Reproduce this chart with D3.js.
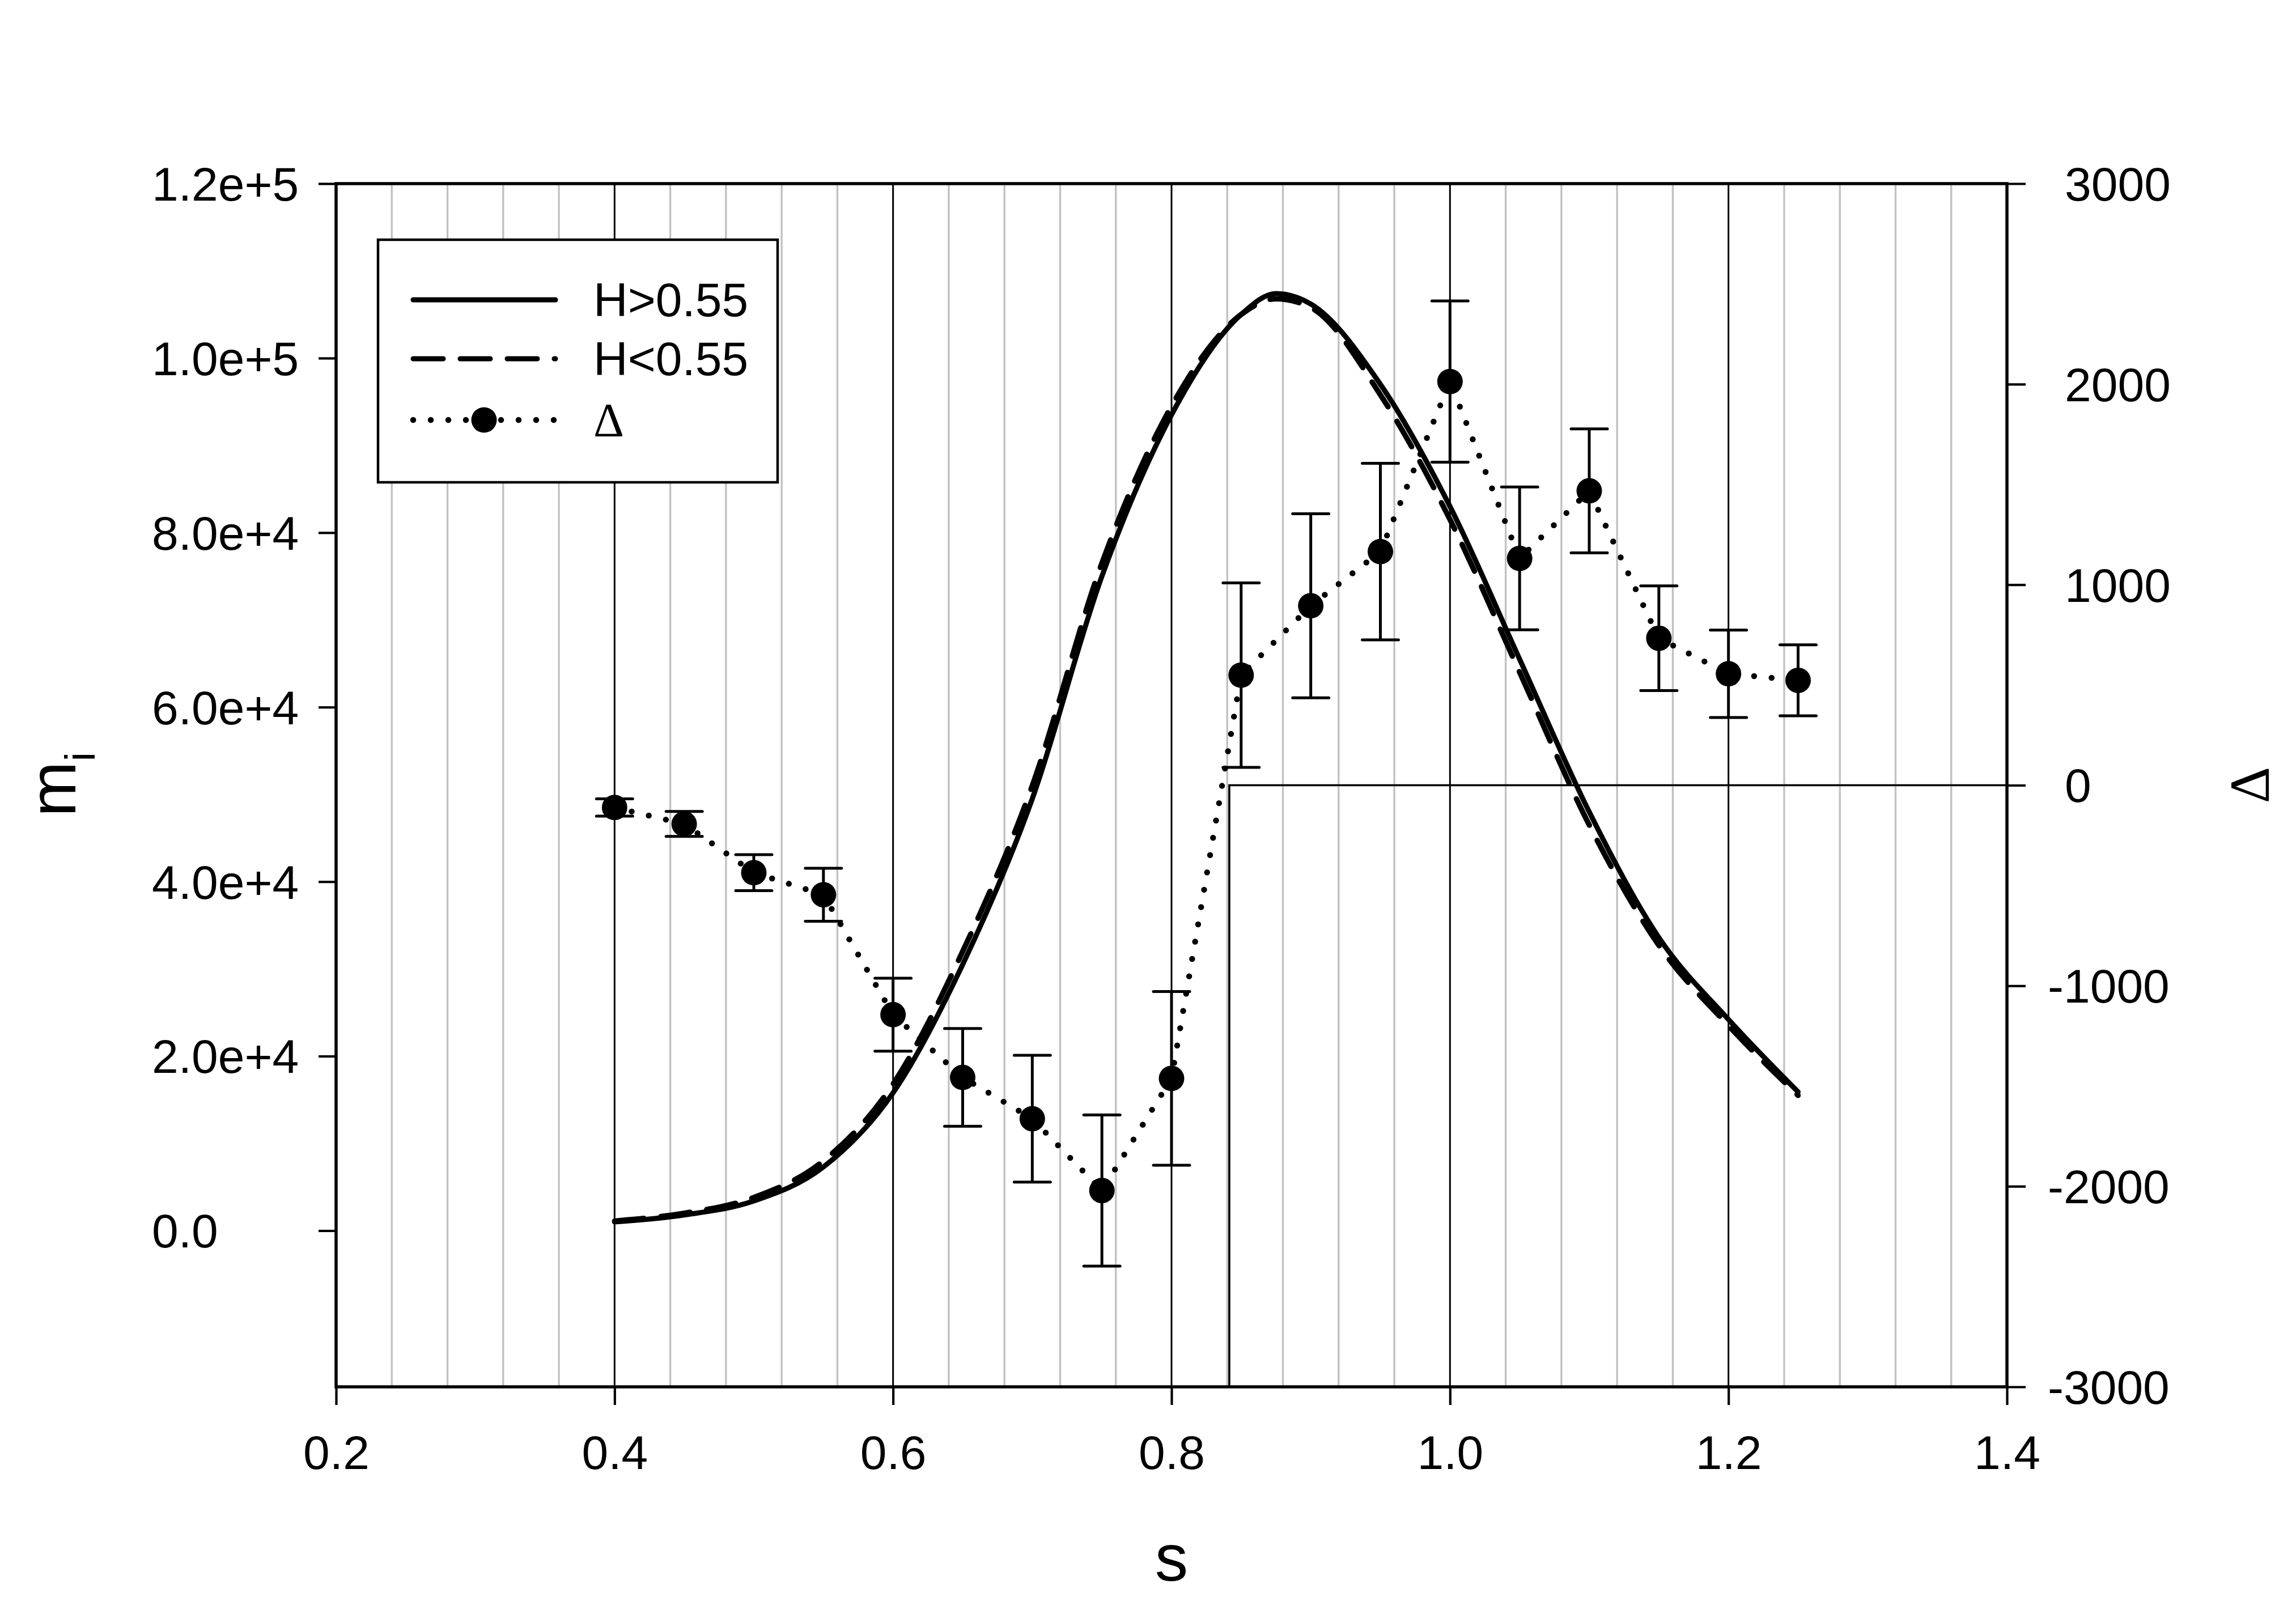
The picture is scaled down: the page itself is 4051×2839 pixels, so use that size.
<!DOCTYPE html>
<html>
<head>
<meta charset="utf-8">
<script src="https://cdn.jsdelivr.net/npm/d3@7"></script>
<style>
  body { margin: 0; background: #fff; }
  text { font-family: "Liberation Sans", Arial, sans-serif; fill: #000; }
</style>
</head>
<body>
<div class="container"></div>
<script>
// ---- data ----
var sCurve = [0.40, 0.45, 0.50, 0.55, 0.60, 0.65, 0.70, 0.75, 0.80, 0.85, 0.875, 0.90, 0.95, 1.00, 1.05, 1.10, 1.15, 1.20, 1.25];
var mHigh  = [1000, 1800, 3400, 7300, 15800, 30500, 49500, 75000, 93500, 105000, 107400, 106200, 97000, 83000, 65500, 48000, 33600, 24200, 15900];
var mLow   = [1100, 2000, 3800, 8000, 16800, 32000, 51000, 76500, 94500, 105000, 106800, 105800, 95800, 81500, 64000, 46500, 32700, 23500, 15500];

var sDelta   = [0.40, 0.45, 0.50, 0.55, 0.60, 0.65, 0.70, 0.75, 0.80, 0.85, 0.90, 0.95, 1.00, 1.05, 1.10, 1.15, 1.20, 1.25];
var deltaVal = [-111, -193, -436, -546, -1144, -1457, -1663, -2021, -1462, 549, 895, 1165, 2013, 1131, 1468, 733, 556, 523];
var deltaErr = [43, 62, 90, 132, 182, 244, 316, 377, 433, 460, 459, 440, 402, 356, 309, 261, 218, 177];

// reference step line (Δ axis)
var stepS = [0.8415, 0.8415, 1.4];
var stepD = [-3000, 0, 0];

var xTicks = [0.2, 0.4, 0.6, 0.8, 1.0, 1.2, 1.4];
var majorGrid = [0.4, 0.6, 0.8, 1.0, 1.2];
var leftTicks = [0, 20000, 40000, 60000, 80000, 100000, 120000];
var leftTickLabels = ["0.0", "2.0e+4", "4.0e+4", "6.0e+4", "8.0e+4", "1.0e+5", "1.2e+5"];
var rightTicks = [-3000, -2000, -1000, 0, 1000, 2000, 3000];

var legendLabels = ["H>0.55", "H<0.55", "\u0394"];

// ---- layout ----
const WIDTH = 4051, HEIGHT = 2839;
const LEFT = 593, RIGHT = 3541, TOP = 324, BOTTOM = 2447;

var svg = d3.select('.container').append('svg')
  .attr('width', WIDTH)
  .attr('height', HEIGHT)
  .style('display', 'block');

svg.append('rect').attr('width', WIDTH).attr('height', HEIGHT).attr('fill', '#fff');

var xScale = d3.scaleLinear().domain([0.2, 1.4]).range([LEFT, RIGHT]);
var yLeft = d3.scaleLinear().domain([-17900, 120000]).range([BOTTOM, TOP]);
var yRight = d3.scaleLinear().domain([-3000, 3000]).range([BOTTOM, TOP]);

// minor grid every 0.04
var minorGrid = d3.range(6, 35).map(function(i){ return +(i * 0.04).toFixed(2); })
  .filter(function(v){ return majorGrid.indexOf(v) < 0; });

svg.append('g').selectAll('line')
  .data(minorGrid).enter().append('line')
  .attr('x1', function(d){ return xScale(d); })
  .attr('x2', function(d){ return xScale(d); })
  .attr('y1', TOP).attr('y2', BOTTOM)
  .attr('stroke', '#c0c0c0').attr('stroke-width', 3.3);

svg.append('g').selectAll('line')
  .data(majorGrid).enter().append('line')
  .attr('x1', function(d){ return xScale(d); })
  .attr('x2', function(d){ return xScale(d); })
  .attr('y1', TOP).attr('y2', BOTTOM)
  .attr('stroke', '#000').attr('stroke-width', 3);

// step line
var stepLine = d3.line()
  .x(function(d, i){ return xScale(stepS[i]); })
  .y(function(d, i){ return yRight(stepD[i]); });
svg.append('path')
  .datum(stepS)
  .attr('d', stepLine)
  .attr('fill', 'none').attr('stroke', '#000').attr('stroke-width', 3.6);

// model curves
var curveLine = d3.line()
  .x(function(d, i){ return xScale(sCurve[i]); })
  .y(function(d){ return yLeft(d); })
  .curve(d3.curveMonotoneX);

svg.append('path')
  .datum(mLow)
  .attr('d', curveLine)
  .attr('fill', 'none').attr('stroke', '#000').attr('stroke-width', 9.5)
  .attr('stroke-dasharray', '52 30').attr('stroke-linecap', 'round');

svg.append('path')
  .datum(mHigh)
  .attr('d', curveLine)
  .attr('fill', 'none').attr('stroke', '#000').attr('stroke-width', 9)
  .attr('stroke-linecap', 'round');

// delta: dotted line, error bars, markers
var deltaLine = d3.line()
  .x(function(d, i){ return xScale(sDelta[i]); })
  .y(function(d){ return yRight(d); });

svg.append('path')
  .datum(deltaVal)
  .attr('d', deltaLine)
  .attr('fill', 'none').attr('stroke', '#000').attr('stroke-width', 10.5)
  .attr('stroke-dasharray', '0 31').attr('stroke-linecap', 'round');

var errG = svg.append('g').attr('stroke', '#000').attr('stroke-width', 5);
errG.selectAll('line.v')
  .data(deltaVal).enter().append('line').attr('class', 'v')
  .attr('x1', function(d, i){ return xScale(sDelta[i]); })
  .attr('x2', function(d, i){ return xScale(sDelta[i]); })
  .attr('y1', function(d, i){ return yRight(d + deltaErr[i]); })
  .attr('y2', function(d, i){ return yRight(d - deltaErr[i]); });
[1, -1].forEach(function(sign){
  errG.selectAll('line.c' + (sign > 0 ? 'p' : 'm'))
    .data(deltaVal).enter().append('line').attr('class', 'c' + (sign > 0 ? 'p' : 'm'))
    .attr('x1', function(d, i){ return xScale(sDelta[i]) - 32; })
    .attr('x2', function(d, i){ return xScale(sDelta[i]) + 32; })
    .attr('y1', function(d, i){ return yRight(d + sign * deltaErr[i]); })
    .attr('y2', function(d, i){ return yRight(d + sign * deltaErr[i]); })
    .attr('stroke-linecap', 'round');
});

svg.append('g').selectAll('circle')
  .data(deltaVal).enter().append('circle')
  .attr('cx', function(d, i){ return xScale(sDelta[i]); })
  .attr('cy', function(d){ return yRight(d); })
  .attr('r', 22.5)
  .attr('fill', '#000');

// ---- axes ----
var translate = function(x, y){ return "translate(" + x + "," + y + ")"; };

var xAxis = d3.axisBottom(xScale).tickValues(xTicks).tickFormat(d3.format('.1f'))
  .tickSizeInner(32).tickSizeOuter(0).tickPadding(53);
var gx = svg.append('g').attr('transform', translate(0, BOTTOM)).call(xAxis);

var yAxisL = d3.axisLeft(yLeft).tickValues(leftTicks)
  .tickFormat(function(d, i){ return leftTickLabels[i]; })
  .tickSizeInner(31).tickSizeOuter(0);
var gl = svg.append('g').attr('transform', translate(LEFT, 0)).call(yAxisL);
gl.selectAll('text').attr('text-anchor', 'start').attr('x', 268 - LEFT).attr('dy', '0.35em');

var yAxisR = d3.axisRight(yRight).tickValues(rightTicks).tickFormat(d3.format('d'))
  .tickSizeInner(33).tickSizeOuter(0);
var gr = svg.append('g').attr('transform', translate(RIGHT, 0)).call(yAxisR);
gr.selectAll('text').attr('text-anchor', 'start')
  .attr('x', function(d){ return d < 0 ? 72 : 102; })
  .attr('dy', '0.35em')
  .text(function(d){ return d < 0 ? '-' + Math.abs(d) : d; });

[gx, gl, gr].forEach(function(g){
  g.selectAll('.domain').remove();
  g.selectAll('.tick line').attr('stroke', '#000').attr('stroke-width', 4.2);
  g.selectAll('text').attr('font-size', 84)
    .attr('font-family', '"Liberation Sans", Arial, sans-serif').attr('fill', '#000');
});

// frame
svg.append('rect')
  .attr('x', LEFT).attr('y', TOP)
  .attr('width', RIGHT - LEFT).attr('height', BOTTOM - TOP)
  .attr('fill', 'none').attr('stroke', '#000').attr('stroke-width', 5.5);

// axis titles
svg.append('text')
  .attr('x', xScale(0.8)).attr('y', 2789)
  .attr('text-anchor', 'middle').attr('font-size', 117)
  .text('s');

var mt = svg.append('text')
  .attr('transform', translate(133, 1384) + ' rotate(-90)')
  .attr('text-anchor', 'middle').attr('font-size', 117);
mt.append('tspan').text('m');
mt.append('tspan').attr('font-size', 74).attr('dy', 34).text('i');

svg.append('text')
  .attr('transform', translate(4003, 1385) + ' rotate(-90)')
  .attr('text-anchor', 'middle').attr('font-size', 100)
  .style('font-family', '"Liberation Serif", "Times New Roman", serif')
  .text('\u0394');

// ---- legend ----
var lg = svg.append('g');
lg.append('rect')
  .attr('x', 667).attr('y', 423).attr('width', 705).attr('height', 428)
  .attr('fill', '#fff').attr('stroke', '#000').attr('stroke-width', 4.5);

var legY = [529, 633, 741];
lg.append('line').attr('x1', 729).attr('x2', 980).attr('y1', legY[0]).attr('y2', legY[0])
  .attr('stroke', '#000').attr('stroke-width', 9).attr('stroke-linecap', 'round');
lg.append('line').attr('x1', 729).attr('x2', 980).attr('y1', legY[1]).attr('y2', legY[1])
  .attr('stroke', '#000').attr('stroke-width', 9).attr('stroke-linecap', 'round')
  .attr('stroke-dasharray', '53 30');
lg.append('line').attr('x1', 729).attr('x2', 980).attr('y1', legY[2]).attr('y2', legY[2])
  .attr('stroke', '#000').attr('stroke-width', 10.5).attr('stroke-linecap', 'round')
  .attr('stroke-dasharray', '0 31');
lg.append('circle').attr('cx', 854).attr('cy', legY[2]).attr('r', 22.5).attr('fill', '#000');

lg.selectAll('text.lab')
  .data(legendLabels).enter().append('text').attr('class', 'lab')
  .attr('x', 1047)
  .attr('y', function(d, i){ return legY[i] + 29; })
  .attr('font-size', 84)
  .style('font-family', function(d, i){ return i === 2 ? '"Liberation Serif", serif' : '"Liberation Sans", Arial, sans-serif'; })
  .text(function(d){ return d; });
</script>
</body>
</html>
